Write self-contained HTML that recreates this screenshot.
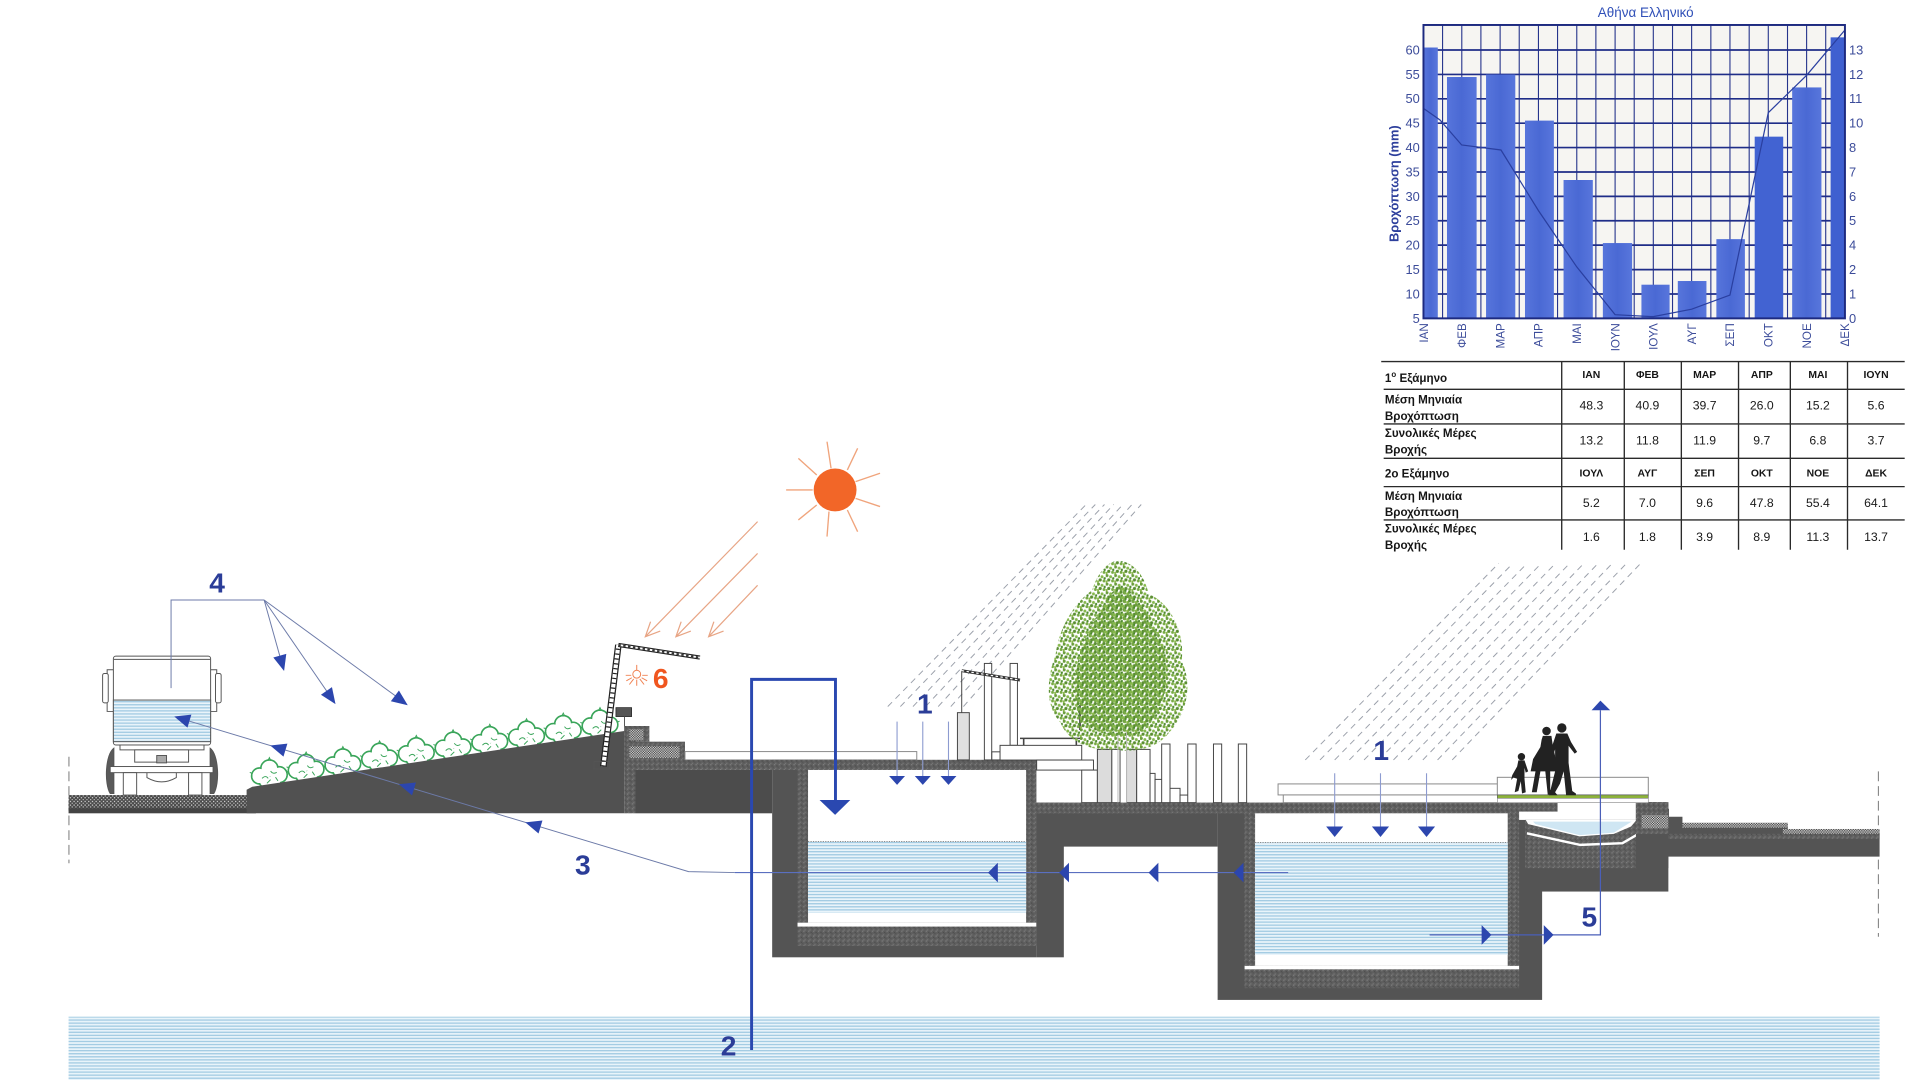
<!DOCTYPE html>
<html><head><meta charset="utf-8"><style>
html,body{margin:0;padding:0;background:#fff;}
svg{display:block;}
text{font-family:"Liberation Sans",sans-serif;}
.n{font-family:"Liberation Sans Narrow","Liberation Sans",sans-serif;}
</style></head><body>
<svg width="1920" height="1080" viewBox="0 0 1568 882" xmlns="http://www.w3.org/2000/svg" xmlns:xlink="http://www.w3.org/1999/xlink">
<defs>
 <pattern id="wat" width="8" height="2.5" patternUnits="userSpaceOnUse"><rect width="8" height="2.5" fill="#e9f4fa"/><rect width="8" height="1.1" fill="#a4cce3"/></pattern>
 <pattern id="conc" width="4" height="4" patternUnits="userSpaceOnUse"><rect width="4" height="4" fill="#5f5f5f"/><rect width="1" height="1" fill="#7e7e7e"/><rect x="2" y="1" width="1" height="1" fill="#4c4c4c"/><rect x="1" y="3" width="1" height="1" fill="#767676"/><rect x="3" y="2" width="1" height="1" fill="#535353"/></pattern>
 <pattern id="chk" width="2" height="2" patternUnits="userSpaceOnUse"><rect width="2" height="2" fill="#e6e6e6"/><rect width="1" height="1" fill="#333"/><rect x="1" y="1" width="1" height="1" fill="#333"/></pattern>
 <pattern id="road" width="3" height="3" patternUnits="userSpaceOnUse"><rect width="3" height="3" fill="#4a4a4a"/><rect width="1" height="1" fill="#e0e0e0"/><rect x="1.5" y="1.5" width="1" height="1" fill="#bdbdbd"/></pattern>
 <pattern id="leaf" width="7" height="7" patternUnits="userSpaceOnUse"><circle cx="1" cy="1" r="1.3" fill="#6a9c3c"/><circle cx="4" cy="2" r="1.2" fill="#86b84c"/><circle cx="2.5" cy="4.6" r="1.3" fill="#5a8e32"/><circle cx="5.6" cy="5.4" r="1.2" fill="#78aa44"/><circle cx="6.2" cy="3.3" r="1" fill="#4e8a2e"/><circle cx=".6" cy="6" r="1" fill="#8ab84a"/></pattern>
 <linearGradient id="bar" x1="0" x2="1" y1="0" y2="0"><stop offset="0" stop-color="#5775db"/><stop offset=".5" stop-color="#4a69d4"/><stop offset="1" stop-color="#5876dc"/></linearGradient>
 <g id="shrub">
  <g fill="none" stroke="#3aa55a" stroke-width="1.4"><circle cx="-8" cy="2" r="6.5"/><circle cx="0" cy="-4" r="7"/><circle cx="8" cy="1" r="6.5"/><circle cx="-3" cy="6" r="5.5"/><circle cx="4" cy="6" r="5.5"/></g>
  <g fill="#fff"><circle cx="-8" cy="2" r="5.8"/><circle cx="0" cy="-4" r="6.3"/><circle cx="8" cy="1" r="5.8"/><circle cx="-3" cy="6" r="4.8"/><circle cx="4" cy="6" r="4.8"/></g>
  <path d="M-6,4 q3,-3 5,0 M1,-2 q2,3 5,1 M-2,8 l3,-3 M5,3 l2,3 M-1,-11 l1,-2 l1,2 M-14,0 l-2,-1 M14,-1 l2,-1" stroke="#3aa55a" stroke-width="0.8" fill="none"/>
 </g>
</defs>

<!-- ================= CHART ================= -->
<text x="1344" y="14" text-anchor="middle" font-size="11" fill="#3050b8" class="n">Αθήνα Ελληνικό</text>
<rect x="1162.5" y="20.4" width="344.2" height="239.6" fill="#f6f5f2"/>
<path d="M1178.1 20.4V260M1193.8 20.4V260M1209.4 20.4V260M1225.1 20.4V260M1240.7 20.4V260M1256.4 20.4V260M1272 20.4V260M1287.7 20.4V260M1303.3 20.4V260M1319 20.4V260M1334.6 20.4V260M1350.2 20.4V260M1365.9 20.4V260M1381.5 20.4V260M1397.2 20.4V260M1412.8 20.4V260M1428.5 20.4V260M1444.1 20.4V260M1459.8 20.4V260M1475.4 20.4V260M1491 20.4V260" stroke="#26348c" stroke-width="0.9" fill="none"/>
<path d="M1162.5 40.8H1506.7M1162.5 60.8H1506.7M1162.5 80.7H1506.7M1162.5 100.6H1506.7M1162.5 120.5H1506.7M1162.5 140.5H1506.7M1162.5 160.4H1506.7M1162.5 180.3H1506.7M1162.5 200.2H1506.7M1162.5 220.2H1506.7M1162.5 240.1H1506.7" stroke="#1f2d88" stroke-width="1.4" fill="none"/>
<g fill="url(#bar)">
 <rect x="1162.5" y="38.8" width="11.7" height="221.2"/>
 <rect x="1181.7" y="62.9" width="24.2" height="197.1"/>
 <rect x="1213.6" y="60.9" width="23.9" height="199.1"/>
 <rect x="1245.4" y="98.5" width="23.6" height="161.5"/>
 <rect x="1276.9" y="147" width="23.9" height="113"/>
 <rect x="1309" y="198.5" width="23.9" height="61.5"/>
 <rect x="1340.5" y="232.5" width="23" height="27.5"/>
 <rect x="1370.2" y="229.5" width="23.4" height="30.5"/>
 <rect x="1401.7" y="195.3" width="23.3" height="64.7"/>
 <rect x="1433" y="111.6" width="23.3" height="148.4" fill="#4263d2"/>
 <rect x="1463.6" y="71.4" width="23.9" height="188.6"/>
 <rect x="1495" y="30.5" width="11.7" height="229.5" fill="#3f60d0"/>
</g>
<polyline points="1162.5,88.5 1176,98 1193.7,118.4 1225.8,122.5 1256.4,172 1287.7,218 1319,257 1350.2,258.6 1381.5,252.5 1412.8,241 1444.1,92 1475.4,61.5 1506.7,24.5" fill="none" stroke="#2a3fa0" stroke-width="1"/>
<rect x="1162.5" y="20.4" width="344.2" height="239.6" fill="none" stroke="#1d2a80" stroke-width="1.6"/>
<g font-size="10.5" fill="#3c4c9a" class="n" text-anchor="end">
 <text x="1159.5" y="44.4">60</text><text x="1159.5" y="64.4">55</text><text x="1159.5" y="84.3">50</text><text x="1159.5" y="104.2">45</text><text x="1159.5" y="124.1">40</text><text x="1159.5" y="144.1">35</text><text x="1159.5" y="164">30</text><text x="1159.5" y="183.9">25</text><text x="1159.5" y="203.8">20</text><text x="1159.5" y="223.8">15</text><text x="1159.5" y="243.7">10</text><text x="1159.5" y="263.6">5</text>
</g>
<g font-size="10.5" fill="#3c4c9a" class="n">
 <text x="1510" y="44.4">13</text><text x="1510" y="64.4">12</text><text x="1510" y="84.3">11</text><text x="1510" y="104.2">10</text><text x="1510" y="124.1">8</text><text x="1510" y="144.1">7</text><text x="1510" y="164">6</text><text x="1510" y="183.9">5</text><text x="1510" y="203.8">4</text><text x="1510" y="223.8">2</text><text x="1510" y="243.7">1</text><text x="1510" y="263.6">0</text>
</g>
<text transform="translate(1142,150) rotate(-90)" text-anchor="middle" font-size="10.5" font-weight="bold" fill="#2d3f9c">Βροχόπτωση (mm)</text>
<g font-size="9.5" fill="#3c4c9a" class="n" text-anchor="end">
 <text transform="translate(1166,264) rotate(-90)">ΙΑΝ</text>
 <text transform="translate(1197.3,264) rotate(-90)">ΦΕΒ</text>
 <text transform="translate(1228.6,264) rotate(-90)">ΜΑΡ</text>
 <text transform="translate(1259.9,264) rotate(-90)">ΑΠΡ</text>
 <text transform="translate(1291.2,264) rotate(-90)">ΜΑΙ</text>
 <text transform="translate(1322.5,264) rotate(-90)">ΙΟΥΝ</text>
 <text transform="translate(1353.7,264) rotate(-90)">ΙΟΥΛ</text>
 <text transform="translate(1385,264) rotate(-90)">ΑΥΓ</text>
 <text transform="translate(1416.3,264) rotate(-90)">ΣΕΠ</text>
 <text transform="translate(1447.6,264) rotate(-90)">ΟΚΤ</text>
 <text transform="translate(1478.9,264) rotate(-90)">ΝΟΕ</text>
 <text transform="translate(1510.2,264) rotate(-90)">ΔΕΚ</text>
</g>

<!-- ================= TABLE ================= -->
<g stroke="#2a2a2a" stroke-width="1.1">
 <path d="M1128 295.3H1555.5M1130 317.9H1555.5M1130 346.2H1555.5M1130 374.3H1555.5M1130 397.4H1555.5M1130 424.6H1555.5"/>
 <path d="M1275.4 295.3V449M1326.5 295.3V449M1373.1 295.3V449M1419.8 295.3V449M1462.1 295.3V449M1508.8 295.3V449"/>
</g>
<g font-size="9.5" font-weight="bold" fill="#151515">
 <text x="1131" y="312">1<tspan dy="-4" font-size="6.5">o</tspan><tspan dy="4"> Εξάμηνο</tspan></text>
 <text x="1131" y="329.5">Μέση Μηνιαία</text><text x="1131" y="343">Βροχόπτωση</text>
 <text x="1131" y="357">Συνολικές Μέρες</text><text x="1131" y="370.5">Βροχής</text>
 <text x="1131" y="390">2ο Εξάμηνο</text>
 <text x="1131" y="408.5">Μέση Μηνιαία</text><text x="1131" y="421.5">Βροχόπτωση</text>
 <text x="1131" y="435">Συνολικές Μέρες</text><text x="1131" y="448.5">Βροχής</text>
</g>
<g font-size="8.5" font-weight="bold" fill="#151515" text-anchor="middle">
 <text x="1299.6" y="308.5">ΙΑΝ</text><text x="1345.4" y="308.5">ΦΕΒ</text><text x="1392.1" y="308.5">ΜΑΡ</text><text x="1438.8" y="308.5">ΑΠΡ</text><text x="1484.6" y="308.5">ΜΑΙ</text><text x="1532.1" y="308.5">ΙΟΥΝ</text>
 <text x="1299.6" y="389">ΙΟΥΛ</text><text x="1345.4" y="389">ΑΥΓ</text><text x="1392.1" y="389">ΣΕΠ</text><text x="1438.8" y="389">ΟΚΤ</text><text x="1484.6" y="389">ΝΟΕ</text><text x="1532.1" y="389">ΔΕΚ</text>
</g>
<g font-size="10" fill="#1a1a1a" text-anchor="middle">
 <text x="1299.6" y="334.5">48.3</text><text x="1345.4" y="334.5">40.9</text><text x="1392.1" y="334.5">39.7</text><text x="1438.8" y="334.5">26.0</text><text x="1484.6" y="334.5">15.2</text><text x="1532.1" y="334.5">5.6</text>
 <text x="1299.6" y="363">13.2</text><text x="1345.4" y="363">11.8</text><text x="1392.1" y="363">11.9</text><text x="1438.8" y="363">9.7</text><text x="1484.6" y="363">6.8</text><text x="1532.1" y="363">3.7</text>
 <text x="1299.6" y="414">5.2</text><text x="1345.4" y="414">7.0</text><text x="1392.1" y="414">9.6</text><text x="1438.8" y="414">47.8</text><text x="1484.6" y="414">55.4</text><text x="1532.1" y="414">64.1</text>
 <text x="1299.6" y="442">1.6</text><text x="1345.4" y="442">1.8</text><text x="1392.1" y="442">3.9</text><text x="1438.8" y="442">8.9</text><text x="1484.6" y="442">11.3</text><text x="1532.1" y="442">13.7</text>
</g>

<!-- ================= GROUNDWATER ================= -->
<rect x="56" y="830.3" width="1479" height="51.7" fill="url(#wat)"/>

<!-- ================= SUN ================= -->
<g stroke="#f0a47c" stroke-width="1.1">
 <line x1="678.7" y1="382.4" x2="675.4" y2="360.7"/>
 <line x1="692" y1="383.8" x2="700.4" y2="366.1"/>
 <line x1="698.7" y1="393.3" x2="718.7" y2="386.5"/>
 <line x1="698.7" y1="407" x2="718.7" y2="413.7"/>
 <line x1="692" y1="416.5" x2="700.4" y2="434.2"/>
 <line x1="677" y1="417.8" x2="675.4" y2="438.2"/>
 <line x1="667" y1="412.4" x2="652" y2="424.6"/>
 <line x1="663.7" y1="400.1" x2="642" y2="400.1"/>
 <line x1="667" y1="387.9" x2="652" y2="374.3"/>
</g>
<circle cx="682" cy="400.1" r="17.5" fill="#f26628"/>
<g stroke="#e8a585" stroke-width="1" fill="none">
 <path d="M618.7,426 L527,520 M539.2,515.4 L527,520 L531.3,507.7"/>
 <path d="M618.7,452 L552,520 M564.2,515.4 L552,520 L556.3,507.7"/>
 <path d="M618.7,478 L578.7,520 M590.9,515.4 L578.7,520 L583,507.7"/>
</g>

<!-- ================= RAIN ================= -->
<g stroke="#9ba0aa" stroke-width="0.8" stroke-dasharray="5 4">
 <line x1="725" y1="577" x2="887" y2="412"/><line x1="735.3" y1="577" x2="894.5" y2="412"/><line x1="745.6" y1="577" x2="902" y2="412"/><line x1="755.9" y1="577" x2="909.5" y2="412"/><line x1="766.2" y1="577" x2="917" y2="412"/><line x1="776.5" y1="577" x2="924.5" y2="412"/><line x1="786.8" y1="577" x2="932" y2="412"/>
 <line x1="1066" y1="620.6" x2="1224" y2="460"/><line x1="1078" y1="620.6" x2="1235.6" y2="460"/><line x1="1090" y1="620.6" x2="1247.2" y2="460"/><line x1="1102" y1="620.6" x2="1258.8" y2="460"/><line x1="1114" y1="620.6" x2="1270.4" y2="460"/><line x1="1126" y1="620.6" x2="1282" y2="460"/><line x1="1138" y1="620.6" x2="1293.6" y2="460"/><line x1="1150" y1="620.6" x2="1305.2" y2="460"/><line x1="1162" y1="620.6" x2="1316.8" y2="460"/><line x1="1174" y1="620.6" x2="1328.4" y2="460"/><line x1="1186" y1="620.6" x2="1340" y2="460"/>
</g>

<!-- ================= LEFT GROUND ================= -->
<line x1="56.3" y1="618" x2="56.3" y2="705" stroke="#777" stroke-width="0.8" stroke-dasharray="8 4"/>
<line x1="1534" y1="630" x2="1534" y2="765" stroke="#777" stroke-width="0.8" stroke-dasharray="8 4"/>
<rect x="56" y="649.3" width="153" height="11" fill="url(#road)"/>
<rect x="56" y="660" width="153" height="4.2" fill="#444"/>
<g>
<use xlink:href="#shrub" href="#shrub" x="220" y="631.7"/>
<use xlink:href="#shrub" href="#shrub" x="250" y="627.2"/>
<use xlink:href="#shrub" href="#shrub" x="280" y="622.7"/>
<use xlink:href="#shrub" href="#shrub" x="310" y="618.1"/>
<use xlink:href="#shrub" href="#shrub" x="340" y="613.6"/>
<use xlink:href="#shrub" href="#shrub" x="370" y="609"/>
<use xlink:href="#shrub" href="#shrub" x="400" y="604.5"/>
<use xlink:href="#shrub" href="#shrub" x="430" y="600"/>
<use xlink:href="#shrub" href="#shrub" x="460" y="595.4"/>
<use xlink:href="#shrub" href="#shrub" x="490" y="590.9"/>
</g>
<polygon points="201.4,664.2 201.4,645 206,642.5 509.8,597 509.8,664.2" fill="#515151"/>

<!-- truck -->
<g stroke="#555" stroke-width="0.8" fill="#fff">
 <path d="M93,611 C86,616 85,640 90,648 L93,648 Z" fill="#5a5a5a"/>
 <path d="M171.6,611 C178.6,616 179.6,640 174.6,648 L171.6,648 Z" fill="#5a5a5a"/>
 <rect x="92.6" y="535.8" width="79.4" height="72.6" rx="2"/>
 <line x1="93" y1="538.5" x2="171.6" y2="538.5"/>
 <rect x="92.6" y="571.7" width="79.4" height="34" fill="url(#wat)"/>
 <path d="M92.6,547 H87.5 V550 M87.5,574 V581 H92.6" fill="none"/>
 <rect x="83.8" y="550" width="4.6" height="24" rx="1.5"/>
 <path d="M172,547 H177 V550 M177,574 V581 H172" fill="none"/>
 <rect x="176" y="550" width="4.6" height="24" rx="1.5"/>
 <rect x="98" y="608.4" width="68.6" height="4"/>
 <rect x="110" y="612.4" width="44" height="10"/>
 <rect x="128" y="617" width="8" height="6" fill="#aaa"/>
 <rect x="90" y="626" width="84" height="5"/>
 <rect x="100.7" y="631" width="10.9" height="18.3"/>
 <rect x="154" y="631" width="10.9" height="18.3"/>
 <path d="M120,631 v4 q12,7 24,0 v-4" fill="none"/>
</g>

<!-- lamp -->
<g>
 <line x1="492.7" y1="626" x2="505" y2="526.7" stroke="#222" stroke-width="5.4"/>
 <line x1="492.7" y1="626" x2="505" y2="526.7" stroke="#fff" stroke-width="3.4"/>
 <line x1="492.7" y1="626" x2="505" y2="526.7" stroke="#222" stroke-width="3.4" stroke-dasharray="1 3"/>
 <line x1="505" y1="526.7" x2="571.6" y2="537" stroke="#222" stroke-width="3.4"/>
 <line x1="505" y1="526.7" x2="571.6" y2="537" stroke="#fff" stroke-width="1.6"/>
 <line x1="505" y1="526.7" x2="571.6" y2="537" stroke="#333" stroke-width="1.6" stroke-dasharray="2 2"/>
 <path d="M485,622 H498 V628 H485 Z" fill="none" stroke="#555" stroke-width="0.6"/>
 <rect x="503" y="577.9" width="12.8" height="7.3" fill="#555" stroke="#222" stroke-width="0.6"/>
 <line x1="510" y1="585.2" x2="510" y2="593" stroke="#555" stroke-width="0.8"/>
 <g stroke="#f08050" stroke-width="0.8" fill="none">
  <line x1="520" y1="543" x2="520" y2="547.5"/>
  <circle cx="520" cy="550.6" r="3.2"/>
  <path d="M520,555 V560 M517.5,554.5 L514,559 M522.5,554.5 L526,559 M516,553.5 L511.5,556 M524,553.5 L528.5,556 M515.5,551.5 L511,551.5 M524.5,551.5 L529,551.5"/>
 </g>
</g>

<!-- ================= STRUCTURE ================= -->
<rect x="519" y="628.8" width="111.6" height="35.4" fill="#4c4c4c"/>
<rect x="509.8" y="592.9" width="9.2" height="71.3" fill="url(#conc)"/>
<rect x="509.8" y="592.9" width="20.5" height="12.8" fill="url(#conc)"/>
<rect x="514" y="595.6" width="11.4" height="9" fill="url(#chk)"/>
<rect x="509.8" y="605.7" width="49.6" height="15" fill="url(#conc)"/>
<rect x="514" y="609.5" width="41" height="9.5" fill="url(#chk)"/>
<rect x="559.4" y="613.8" width="189.3" height="6.8" fill="#fff" stroke="#888" stroke-width="0.8"/>

<!-- tank 1 -->
<rect x="630.6" y="620.6" width="215.7" height="161.2" fill="#545454"/>
<rect x="846.3" y="655.5" width="148.1" height="35.9" fill="#545454"/>
<rect x="846.3" y="655.5" width="22.5" height="126.3" fill="#545454"/>
<rect x="509.8" y="620.6" width="336.5" height="8.2" fill="url(#conc)"/>
<rect x="651.3" y="620.6" width="195" height="151.9" fill="url(#conc)"/>
<rect x="659.9" y="628.8" width="178.1" height="124.7" fill="#fff"/>
<rect x="659.9" y="687.3" width="178.1" height="58" fill="url(#wat)"/>
<line x1="659.9" y1="687.3" x2="838" y2="687.3" stroke="#666" stroke-width="0.6" stroke-dasharray="1 1"/>
<rect x="651.3" y="753.5" width="195" height="3.2" fill="#fff"/>

<!-- tank 2 -->
<rect x="994.4" y="655.5" width="265" height="161.1" fill="#545454"/>
<rect x="1240" y="655.5" width="122.5" height="72.6" fill="#545454"/>
<rect x="846.3" y="655.5" width="426" height="8.7" fill="url(#conc)"/>
<rect x="1016.4" y="664.2" width="224.2" height="142.8" fill="url(#conc)"/>
<rect x="1025" y="664.2" width="206.3" height="124.6" fill="#fff"/>
<rect x="1025" y="688.1" width="206.3" height="91.8" fill="url(#wat)"/>
<line x1="1025" y1="688.1" x2="1231.3" y2="688.1" stroke="#666" stroke-width="0.6" stroke-dasharray="1 1"/>
<rect x="1016.4" y="788.8" width="224.2" height="2.8" fill="#fff"/>

<!-- pond -->
<rect x="1240.6" y="662.8" width="95.4" height="6.8" fill="#fff"/>
<rect x="1272" y="655.5" width="64" height="8" fill="#fff"/>
<rect x="1245.4" y="669.6" width="91.2" height="39.4" fill="url(#conc)"/>
<polygon points="1246,669.6 1336.6,669.6 1332,675 1318,681 1290,683 1248,673" fill="#fff"/>
<polygon points="1252,671 1332.5,671 1318,680 1290,682 1254,673" fill="#cfe6f3"/>
<polyline points="1247,680.5 1290.5,690 1325,688.6 1336.6,681.9" fill="none" stroke="#fff" stroke-width="2"/>

<!-- right steps & slab -->
<polygon points="1336,655 1352,655 1352,660.5 1363,660.5 1363,667 1374,667 1374,672 1460,672 1460,677 1535,677 1535,699.6 1362.5,699.6 1362.5,709 1336,709" fill="#545454"/>
<rect x="1336" y="655" width="26.5" height="26" fill="url(#conc)"/>
<rect x="1340.7" y="665.5" width="21.7" height="10.9" fill="url(#chk)"/>
<rect x="1374" y="672" width="86" height="4" fill="url(#chk)"/>
<rect x="1456" y="677" width="79" height="4" fill="url(#chk)"/>
<rect x="1362.5" y="681" width="172.5" height="4" fill="url(#conc)"/>

<!-- pergola / tree area -->
<g stroke="#444" stroke-width="0.8">
 <rect x="781.9" y="582" width="9.7" height="38.6" fill="#e0e0e0"/>
 <line x1="785.4" y1="548" x2="785.4" y2="582"/>
 <rect x="803.9" y="541.8" width="6" height="78.8" fill="#fff"/>
 <rect x="824.9" y="541.8" width="6" height="66.9" fill="#fff"/>
 <rect x="810" y="614" width="7" height="6.6" fill="#fff"/>
 <rect x="816.7" y="608.7" width="66.7" height="12" fill="#fff"/>
 <rect x="846.6" y="620.7" width="46.4" height="8.2" fill="#fff"/>
 <path d="M833,603 H882 M836,603 V608.7 M879,603 V608.7" fill="none" stroke-width="1.3"/>
 <rect x="883.4" y="628.9" width="12.8" height="26.6" fill="#fff"/>
 <rect x="896.2" y="612" width="11.8" height="43.5" fill="#dcdcdc"/>
 <rect x="908" y="612" width="6.7" height="43.5" fill="#fff"/>
 <rect x="920" y="612" width="8.3" height="43.5" fill="#dcdcdc"/>
 <rect x="928.3" y="612" width="10.9" height="43.5" fill="#fff"/>
 <rect x="939.2" y="631.6" width="4.1" height="23.9" fill="#fff"/>
 <rect x="943.3" y="636.5" width="9.5" height="19" fill="#fff"/>
 <rect x="952.8" y="643.8" width="10.9" height="11.7" fill="#fff"/>
 <rect x="963.7" y="649.3" width="9.5" height="6.2" fill="#fff"/>
 <rect x="948.7" y="607.6" width="6.8" height="47.9" fill="#fff"/>
 <rect x="970" y="607.6" width="6.8" height="47.9" fill="#fff"/>
 <rect x="991" y="607.6" width="6.7" height="47.9" fill="#fff"/>
 <rect x="1011.3" y="607.6" width="6.8" height="47.9" fill="#fff"/>
 <line x1="882" y1="575.8" x2="882" y2="596.2" stroke-width="1.4"/>
</g>
<line x1="785.4" y1="547.7" x2="833" y2="555.4" stroke="#333" stroke-width="2.4"/>
<line x1="785.4" y1="547.7" x2="833" y2="555.4" stroke="#fff" stroke-width="1" stroke-dasharray="2 2"/>
<path d="M913,458 C925,458 935,470 938,485 C955,492 968,515 965,540 C975,560 968,585 955,598 C945,612 925,615 910,612 C890,614 872,605 866,590 C852,575 856,550 862,535 C865,510 880,490 892,482 C896,468 905,458 913,458 Z" fill="url(#leaf)"/>
<path d="M913,475 C925,480 935,500 945,520 C955,545 950,575 930,595 C915,600 895,600 880,585 C870,565 875,530 890,505 C898,490 905,478 913,475 Z" fill="url(#leaf)" transform="translate(3,3)"/>
<path d="M913,600 V655.5 M920,598 V655.5" stroke="#bbb" stroke-width="0.8"/>

<!-- platforms & people -->
<rect x="1043.75" y="640.2" width="179.25" height="9" fill="#fff" stroke="#888" stroke-width="0.8"/>
<rect x="1048" y="649.2" width="175" height="6.3" fill="#fff" stroke="#888" stroke-width="0.8"/>
<rect x="1222.8" y="634.8" width="123.3" height="14.4" fill="#fff" stroke="#888" stroke-width="0.8"/>
<rect x="1222.8" y="649.2" width="123.3" height="2.8" fill="#8db33a" stroke="#556" stroke-width="0.5"/>
<rect x="1222.8" y="652" width="123.3" height="3.5" fill="#fff" stroke="#888" stroke-width="0.5"/>
<g fill="#222">
 <circle cx="1275.5" cy="594.5" r="3.8"/>
 <path d="M1271,599 L1280,599 L1283,606 L1288,614 L1286,615.5 L1281,609 L1281,623 L1284,646 L1287,648 L1287,649.5 L1279,649.5 L1277,630 L1274,640 L1270,647 L1272,649.5 L1265,649.5 L1266,646 L1270,630 L1270,612 L1268,618 L1265,617 Z"/>
 <circle cx="1263" cy="597" r="3.5"/>
 <path d="M1260,601 L1267,601 L1268,608 L1271,622 L1271,630 L1266,630 L1266,645 L1269,648 L1264,649 L1262,630 L1258,630 L1255,647 L1251,647 L1254,630 L1250,630 L1252,620 L1258,610 L1259,604 Z"/>
 <circle cx="1242.5" cy="618" r="3"/>
 <path d="M1240,621 L1245,621 L1248,630 L1246,631 L1245,627 L1245,636 L1246,647 L1243,648 L1242,638 L1240,646 L1237,647 L1239,636 L1236,635 L1234,637 L1235,633 L1239,626 Z"/>
</g>

<!-- ================= LINES & ARROWS ================= -->
<g fill="none" stroke="#6c7aa8" stroke-width="0.8">
 <polyline points="139.7,562 139.7,490 215.7,490"/>
 <line x1="215.7" y1="490" x2="230" y2="541"/>
 <line x1="215.7" y1="490" x2="270" y2="569"/>
 <line x1="215.7" y1="490" x2="328" y2="572"/>
 <polyline points="145,586 562.3,711.8 600,712.6"/>
</g>
<line x1="600" y1="712.6" x2="1052" y2="712.6" stroke="#5a6fc0" stroke-width="0.9"/>
<g fill="#2c46ae">
 <polygon points="232,548 223.2,537 233.8,534"/>
 <polygon points="274,575 262.1,567.4 271.1,561.2"/>
 <polygon points="333,576 319.2,572.7 325.8,563.9"/>
 <polygon points="429,671.6 443,670.1 439.8,680.7"/>
 <polygon points="325.7,640.5 339.7,639 336.5,649.6"/>
 <polygon points="220.7,608.8 234.7,607.3 231.5,617.9"/>
 <polygon points="142.3,585.1 156.3,583.6 153.1,594.2"/>
 <polygon points="806.9,712.6 814.9,704.6 814.9,720.6"/>
 <polygon points="865,712.6 873,704.6 873,720.6"/>
 <polygon points="938,712.6 946,704.6 946,720.6"/>
 <polygon points="1007.5,712.6 1015.5,704.6 1015.5,720.6"/>
</g>
<path d="M613.8,857.5 V554.8 H682.3 V655" fill="none" stroke="#2a48b0" stroke-width="2.4"/>
<polygon points="669.3,653.3 694.4,653.3 682,665.5" fill="#2a48b0"/>
<g stroke="#8d9bd0" stroke-width="0.9">
 <line x1="732.6" y1="589.3" x2="732.6" y2="634"/><line x1="753.6" y1="589.3" x2="753.6" y2="634"/><line x1="774.6" y1="589.3" x2="774.6" y2="634"/>
 <line x1="1090" y1="631.5" x2="1090" y2="676"/><line x1="1127.4" y1="631.5" x2="1127.4" y2="676"/><line x1="1165" y1="631.5" x2="1165" y2="676"/>
</g>
<g fill="#2c46ae">
 <polygon points="726.1,633.7 739.1,633.7 732.6,641"/>
 <polygon points="747.1,633.7 760.1,633.7 753.6,641"/>
 <polygon points="768.1,633.7 781.1,633.7 774.6,641"/>
 <polygon points="1083,675 1097,675 1090,683.5"/>
 <polygon points="1120.4,675 1134.4,675 1127.4,683.5"/>
 <polygon points="1158,675 1172,675 1165,683.5"/>
</g>
<path d="M1167.5,763.5 H1307 V580" fill="none" stroke="#4a5fb8" stroke-width="1"/>
<g fill="#2c46ae">
 <polygon points="1218,763.5 1210,755.5 1210,771.5"/>
 <polygon points="1268.75,763.5 1260.75,755.5 1260.75,771.5"/>
 <polygon points="1307,572.2 1299.8,580 1315,580"/>
</g>

<g font-size="23" font-weight="bold" fill="#2b3d98" text-anchor="middle">
 <text x="177.3" y="484">4</text>
 <text x="755.3" y="582.5">1</text>
 <text x="1128" y="620.6">1</text>
 <text x="476" y="714">3</text>
 <text x="595" y="862">2</text>
 <text x="1298" y="756.7">5</text>
</g>
<text x="539.6" y="562" font-size="23" font-weight="bold" fill="#f0561f" text-anchor="middle">6</text>
</svg>
</body></html>
